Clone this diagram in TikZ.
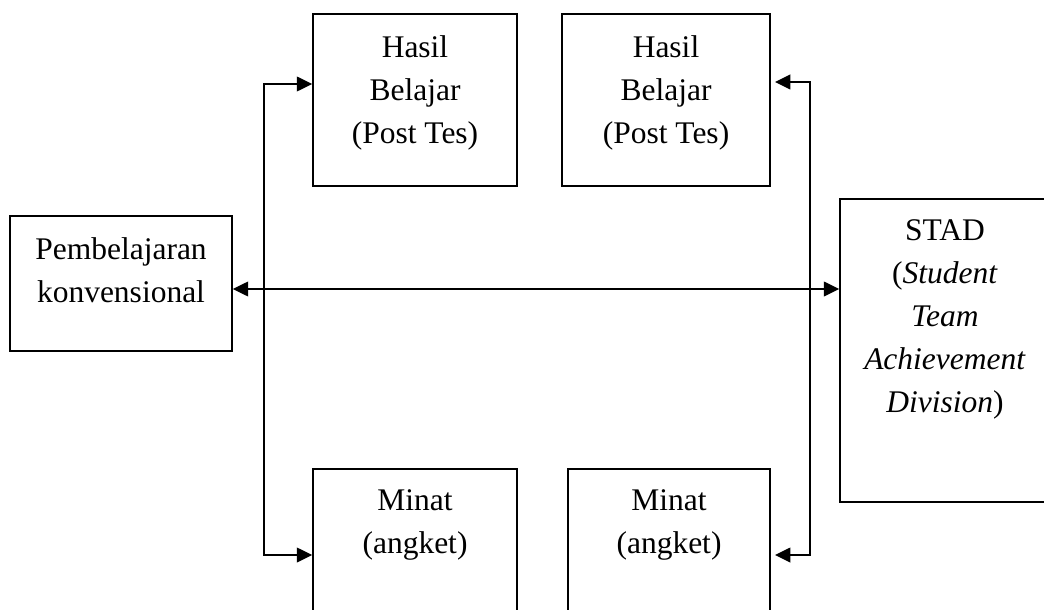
\documentclass[tikz,border=0pt]{standalone}
\usepackage{fontspec}
\setmainfont{Liberation Serif}
\usetikzlibrary{arrows.meta,fit}
\begin{document}
\begin{tikzpicture}[x=0.025cm,y=-0.025cm,
  kotak/.style={draw, line width=1.1pt, inner sep=0pt},
  tulisan/.style={anchor=north, align=center, inner sep=0pt,
    font=\fontsize{22.4}{30.6}\selectfont},
  panah/.style={line width=1.2pt,
    {Triangle[length=11pt,width=10.5pt]}-{Triangle[length=11pt,width=10.5pt]}}]
\useasboundingbox (0,0) rectangle (1044,610);
\clip (0,0) rectangle (1044,610);
% kotak
\node[kotak, fit={(313,14) (517,186)}] (hasilA) {};
\node[kotak, fit={(562,14) (770,186)}] (hasilB) {};
\node[kotak, fit={(10,216) (232,351)}] (konv) {};
\node[kotak, fit={(840,199) (1060,502)}] (stad) {};
\node[kotak, fit={(313,469) (517,640)}] (minatA) {};
\node[kotak, fit={(568,469) (770,640)}] (minatB) {};
% teks
\node[tulisan] (tHasilA) at (415,35) {Hasil\\Belajar\\(Post Tes)};
\node[tulisan] (tHasilB) at (666,35) {Hasil\\Belajar\\(Post Tes)};
\node[tulisan] (tKonv) at (121,237) {Pembelajaran\\konvensional};
\node[tulisan] (tStad) at (945,219)
{STAD\\(\textit{Student}\\\textit{Team}\\\textit{Achievement}\\\textit{Division})};
\node[tulisan] (tMinatA) at (415,489) {Minat\\(angket)};
\node[tulisan] (tMinatB) at (669,489) {Minat\\(angket)};
% garis
\coordinate (kiriAtas) at (264,84);
\coordinate (kiriBawah) at (264,555);
\coordinate (kananAtas) at (810,82);
\coordinate (kananBawah) at (810,555);
\coordinate (tengah) at (264,289);
\draw[panah] (kiriAtas -| hasilA.west) -- (kiriAtas) -- (kiriBawah) -- (kiriBawah -| minatA.west);
\draw[panah, shorten <=3pt, shorten >=3pt] (kananAtas -| hasilB.east) -- (kananAtas) -- (kananBawah) -- (kananBawah -| minatB.east);
\draw[panah] (tengah -| konv.east) -- (tengah -| stad.west);
\end{tikzpicture}
\end{document}
